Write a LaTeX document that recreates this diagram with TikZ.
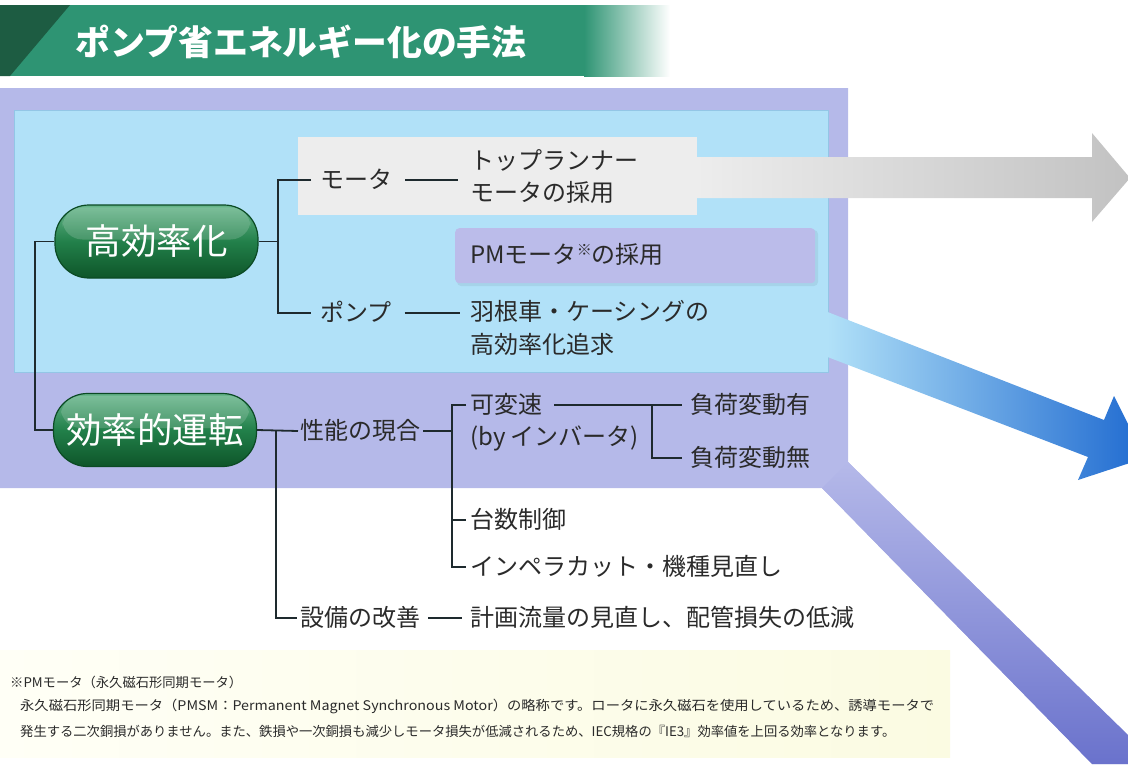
\documentclass[tikz,border=0pt]{standalone}
\usepackage{fontspec}
\setmainfont{Noto Sans CJK JP}
\usetikzlibrary{calc}
\definecolor{lav}{HTML}{B5B9E9}
\definecolor{lavdark}{HTML}{6A72CC}
\definecolor{lblue}{HTML}{B1E1F8}
\definecolor{lbluedark}{HTML}{93C6E6}
\definecolor{ink}{HTML}{2A2A2A}
\definecolor{lnc}{HTML}{1E2A2E}
\definecolor{hdr}{HTML}{2E9473}
\definecolor{hdrdark}{HTML}{1D5C42}
\definecolor{grayA}{HTML}{EDEDED}
\definecolor{grayB}{HTML}{C2C2C2}
\definecolor{blueA}{HTML}{B1E1F8}
\definecolor{blueB}{HTML}{1F6AD0}
\definecolor{pmc}{HTML}{BBBCEA}
\definecolor{greenT}{HTML}{66B58A}
\definecolor{greenM}{HTML}{22804A}
\definecolor{greenB}{HTML}{0E5529}
\definecolor{greenE}{HTML}{0B4A24}
\definecolor{creamA}{HTML}{FFFFF6}
\definecolor{creamB}{HTML}{FBFBE2}
\begin{document}
\begin{tikzpicture}[x=1pt,y=-1pt,
  txt/.style={font=\fontsize{24}{30}\selectfont, text=ink, inner sep=0pt, anchor=west, text height=20.5pt, text depth=3.5pt},
  note/.style={font=\fontsize{13.3}{16}\selectfont, text=ink, inner sep=0pt, anchor=west},
  ln/.style={draw=lnc, line width=1.8pt},
  pill/.style={rectangle, rounded corners=34pt, minimum width=203pt, minimum height=73pt,
     top color=greenT, bottom color=greenB, middle color=greenM, draw=greenE, line width=1.2pt,
     text=white, font=\fontsize{35.5}{40}\selectfont, inner sep=0pt}]
\useasboundingbox (0,0) rectangle (1128,764);
\clip (0,0) rectangle (1128,764);
% header
\fill[hdr] (0,5) rectangle (585,76);
\shade[left color=hdr, right color=white] (584,5) rectangle (670,76);
\fill[hdrdark] (0,5) -- (70,5) -- (10,76) -- (0,76) -- cycle;
\node[anchor=west, text=white, font=\fontsize{34.8}{40}\bfseries, inner sep=0pt] (title) at (75,42) {ポンプ省エネルギー化の手法};
% lavender region
\fill[lav] (0,88) -- (848,88) -- (848,462) -- (1128,735) -- (1128,764) -- (1092,764) -- (822,488) -- (0,488) -- cycle;
\shade[top color=lav, bottom color=lavdark] (822,488) -- (848,462) -- (1128,735) -- (1128,764) -- (1092,764) -- cycle;
% light blue box
\fill[lblue, draw=lbluedark, line width=0.8pt] (14,110) rectangle (828,372);
% blue arrow
\shade[left color=blueA, right color=blueB] (827.6,312) -- (1104,420) -- (1114,396) -- (1145,458) -- (1078,480) -- (1088,457) -- (827.6,357) -- cycle;
% gray box and arrow
\fill[grayA] (298,137) rectangle (697,215);
\shade[left color=grayA, right color=grayB] (696,157) -- (1092,157) -- (1092,133) -- (1130,178) -- (1092,222) -- (1092,198) -- (696,198) -- cycle;
% PM box
\fill[black, opacity=0.06, rounded corners=4pt] (457,230) rectangle (818,286);
\node[fill=pmc, rounded corners=4pt, minimum width=360pt, minimum height=55pt, anchor=north west, inner sep=0pt] (pmbox) at (455,228) {};
\node[txt] (pm) at (470,255) {PMモータ\raisebox{0.35em}{\fontsize{15}{15}\selectfont ※}の採用};
% pills
\node[pill] (p1) at (156.5,241.5) {高効率化};
\node[pill] (p2) at (155,430) {効率的運転};
\fill[white, opacity=0.16, rounded corners=20pt] ([xshift=8pt,yshift=-3pt]p1.north west) rectangle ([xshift=-8pt,yshift=2pt]p1.east);
\fill[white, opacity=0.16, rounded corners=20pt] ([xshift=8pt,yshift=-3pt]p2.north west) rectangle ([xshift=-8pt,yshift=2pt]p2.east);
% texts
\node[txt] (motor) at (320,180) {モータ};
\node[txt] (top1) at (470,161) {トップランナー};
\node[txt] (top2) at (470,193) {モータの採用};
\node[txt] (pump) at (320,313) {ポンプ};
\node[txt] (imp1) at (470,312) {羽根車・ケーシングの};
\node[txt] (imp2) at (470,345) {高効率化追求};
\node[txt] (perf) at (300,431) {性能の現合};
\node[txt] (vs1) at (470,405) {可変速};
\node[txt] (vs2) at (470,437) {(by インバータ)};
\node[txt] (load1) at (690,405) {負荷変動有};
\node[txt] (load2) at (690,458) {負荷変動無};
\node[txt] (daisu) at (470,520) {台数制御};
\node[txt] (impc) at (470,567) {インペラカット・機種見直し};
\node[txt] (equip) at (300,618) {設備の改善};
\node[txt] (plan) at (470,618) {計画流量の見直し、配管損失の低減};
% connectors
\coordinate (lx) at (35,0);
\coordinate (t1) at (278,0);
\coordinate (t2) at (276,0);
\coordinate (t3) at (452,0);
\coordinate (t4) at (652,0);
\draw[ln] (p1.west) -- (p1.west -| lx) |- (p2.west);
\draw[ln] (p1.east) -- (p1.east -| t1);
\draw[ln] ([xshift=-9pt]motor.west) -| (t1 |- pump.west) -- ([xshift=-9pt]pump.west);
\draw[ln] ([xshift=13pt]motor.east) -- ([xshift=-12pt]motor.east -| top1.west);
\draw[ln] ([xshift=13pt]pump.east) -- ([xshift=-10pt]pump.east -| imp1.west);
\draw[ln] (p2.east) -- ([xshift=-2pt]perf.west);
\draw[ln] (p2.east -| t2) |- ([xshift=-3pt]equip.west);
\draw[ln] ([xshift=3pt]perf.east) -- (perf.east -| t3);
\draw[ln] ([xshift=-4pt]vs1.west) -| (t3 |- impc.west) -- ([xshift=-4pt]impc.west);
\draw[ln] (t3 |- daisu.west) -- ([xshift=-4pt]daisu.west);
\draw[ln] ([xshift=12pt]vs1.east) -- ([xshift=-8pt]load1.west);
\draw[ln] (t4 |- load1.west) |- ([xshift=-8pt]load2.west);
\draw[ln] ([xshift=8pt]equip.east) -- ([xshift=-8pt]plan.west);
% footnote
\shade[left color=creamA, right color=creamB] (0,650) rectangle (950,757);
\node[note] (n1) at (10,682) {※PMモータ（永久磁石形同期モータ）};
\node[note] (n2) at (20,706) {\scalebox{1.075}[1]{永久磁石形同期モータ（PMSM：Permanent Magnet Synchronous Motor）の略称です。ロータに永久磁石を使用しているため、誘導モータで}};
\node[note] (n3) at (20,731) {発生する二次銅損がありません。また、鉄損や一次銅損も減少しモータ損失が低減されるため、IEC規格の『IE3』効率値を上回る効率となります。};
\end{tikzpicture}
\end{document}
